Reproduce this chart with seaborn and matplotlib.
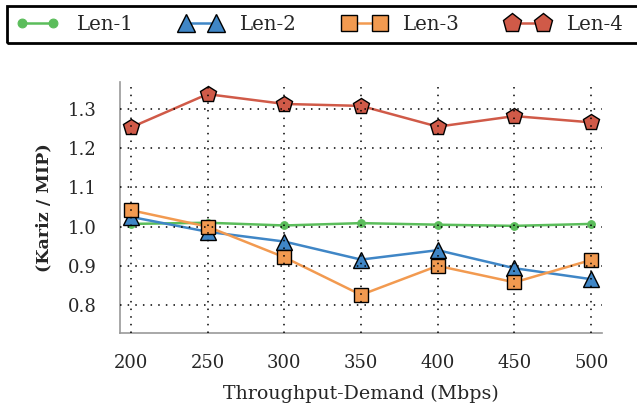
import matplotlib
matplotlib.use("Agg")
import matplotlib.pyplot as plt
from matplotlib.patches import Rectangle
import seaborn as sns
import pandas as pd

# Throughput demand levels (Mbps)
demand = [200, 250, 300, 350, 400, 450, 500]

# Kariz / MIP ratio for each lookahead length
len1 = [1.007, 1.010, 1.003, 1.009, 1.005, 1.002, 1.007]
len2 = [1.025, 0.987, 0.962, 0.916, 0.940, 0.894, 0.866]
len3 = [1.042, 1.000, 0.922, 0.826, 0.900, 0.858, 0.915]
len4 = [1.253, 1.338, 1.313, 1.308, 1.255, 1.282, 1.266]

series_names = ["Len-1", "Len-2", "Len-3", "Len-4"]
series_values = [len1, len2, len3, len4]

sns.set_style("white")
plt.rcParams["font.family"] = ["DejaVu Serif"]

df = pd.DataFrame({
    "demand": demand * len(series_names),
    "ratio": [v for vals in series_values for v in vals],
    "series": [n for n in series_names for _ in demand],
})

styles = {
    "Len-1": dict(color="#5BBD5B", marker="o", markersize=5.5, markeredgecolor="#5BBD5B", markeredgewidth=0.8),
    "Len-2": dict(color="#3F86C6", marker="^", markersize=11, markeredgecolor="black", markeredgewidth=1.0),
    "Len-3": dict(color="#F29A50", marker="s", markersize=10.5, markeredgecolor="black", markeredgewidth=1.0),
    "Len-4": dict(color="#D05A48", marker="p", markersize=12, markeredgecolor="black", markeredgewidth=1.0),
}

fig, ax = plt.subplots(figsize=(6.37, 4.12), dpi=100)
fig.subplots_adjust(left=0.188, right=0.945, top=0.801, bottom=0.192)

for name in series_names:
    sub = df[df["series"] == name]
    sns.lineplot(data=sub, x="demand", y="ratio", ax=ax, label=name,
                 linewidth=1.8, zorder=2, **styles[name])

ax.set_xlim(192.8, 507)
ax.set_ylim(0.729, 1.369)
ax.set_xticks(demand)
ax.set_yticks([0.8, 0.9, 1.0, 1.1, 1.2, 1.3])
ax.set_yticklabels(["0.8", "0.9", "1.0", "1.1", "1.2", "1.3"])

ax.grid(True, linestyle=(0, (1, 4)), color="black", linewidth=1.1)
ax.set_axisbelow(False)

for side in ["top", "right"]:
    ax.spines[side].set_visible(False)
for side in ["left", "bottom"]:
    ax.spines[side].set_color("#999999")
    ax.spines[side].set_linewidth(1.2)

ax.tick_params(axis="both", which="major", direction="out", color="#888888",
               labelsize=13, width=1.0, length=7.5)
ax.tick_params(axis="x", pad=8)
ax.tick_params(axis="y", pad=9)

ax.set_xlabel("Throughput-Demand (Mbps)", fontsize=13.7, labelpad=9)
ax.set_ylabel("(Kariz / MIP)", fontsize=12.6, fontweight="bold", labelpad=11)

handles, labels = ax.get_legend_handles_labels()
ax.get_legend().remove()
leg = fig.legend(handles, labels, loc="center left",
                 bbox_to_anchor=(0.001, 1 - 24.5 / 412),
                 ncol=4, numpoints=2, frameon=False,
                 fontsize=14.2, handlelength=2.15, columnspacing=2.35,
                 handletextpad=0.9, borderpad=0.3, markerscale=1.15)

# Legend box running across the top of the figure
fig.patches.append(Rectangle((7 / 637, 1 - 43 / 412), 0.995, 37 / 412,
                             transform=fig.transFigure, fill=False,
                             edgecolor="black", linewidth=2.0, zorder=5))

fig.savefig("out.png", dpi=100)
